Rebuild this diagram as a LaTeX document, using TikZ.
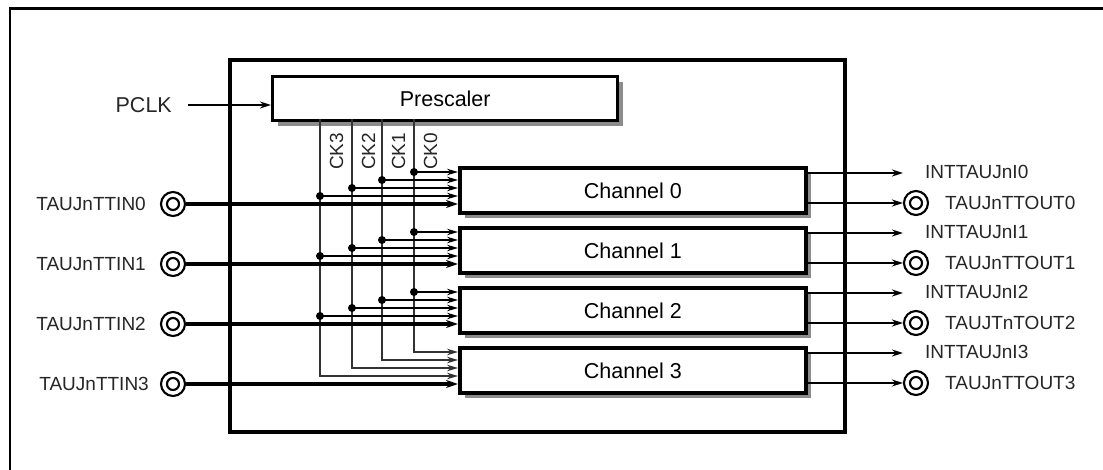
\documentclass[tikz,border=0pt]{standalone}
\usepackage{fontspec}
\setmainfont{Liberation Sans}
\usetikzlibrary{arrows.meta,shadows}
\begin{document}
\begin{tikzpicture}[x=1pt,y=-1pt,
  lab/.style={inner sep=0pt, font=\fontsize{19}{22}\selectfont, text=black!85},
  bigtext/.style={font=\fontsize{21.5}{25}\selectfont},
  blockbox/.style={draw, fill=white, line width=3.8pt, inner sep=0pt, anchor=north west, bigtext,
    drop shadow={shadow xshift=5.5pt, shadow yshift=-5.5pt, opacity=1, fill=black!45}},
  ring/.style={circle, draw, fill=white, line width=2.1pt, minimum size=24pt, inner sep=0pt,
    path picture={\draw[line width=2.1pt] (path picture bounding box.center) circle (6pt);}},
  cklin/.style={line width=1.4pt, draw=black!80},
  thinarrow/.style={line width=1.4pt, -{Stealth[length=11pt,width=6.5pt]}},
  thickarrow/.style={line width=3.3pt, -{Stealth[length=12pt,width=8pt]}},
  outarrow/.style={line width=2.8pt, -{Stealth[length=11pt,width=7pt]}}
]
\useasboundingbox (0,0) rectangle (1103,470);
\fill[white] (0,0) rectangle (1103,470);
% outer frame (only top and left visible)
\begin{scope}
\clip (0,0) rectangle (1103,470);
\draw[line width=2.6pt] (10,8.5) rectangle (1130,500);
\end{scope}
% inner big box
\draw[line width=4.5pt] (230,60) rectangle (845,432);

% prescaler
\node[blockbox, line width=3.4pt, minimum width=345pt, minimum height=44pt] (pre) at (271,75) {Prescaler};
\node[lab, font=\fontsize{21.5}{25}\selectfont, anchor=east] (pclk) at (172,105) {PCLK};
\coordinate (pc) at (188,105);
\draw[outarrow] (pc) -- (pc -| pre.west);

% channels
\foreach \i/\T in {0/166,1/226,2/286,3/346}{
  \node[blockbox, minimum width=346pt, minimum height=45pt] (ch\i) at (458,\T) {Channel \i};
}

% CK lines
\foreach \k/\x/\o in {0/414/6,1/382/14,2/352/22,3/320/30}{
  \coordinate (k\k) at (\x,119);
  \coordinate (e\k) at (\x,346+\o);
  \draw[cklin, thinarrow] (k\k) -- (e\k) -- (e\k -| ch3.west);
  \node[lab, rotate=90, anchor=base west] (ckl\k) at (\x+23,170) {CK\k};
  \foreach \i/\T in {0/166,1/226,2/286}{
    \coordinate (d\i\k) at (\x,\T+\o);
    \draw[thinarrow] (d\i\k) -- (d\i\k -| ch\i.west);
    \fill (d\i\k) circle (4pt);
  }
}

% inputs
\foreach \i/\T/\lx in {0/166/146,1/226/146,2/286/146,3/346/149}{
  \node[ring] (in\i) at (173,\T+38) {};
  \node[lab, anchor=east] (inl\i) at (\lx,\T+38) {TAUJnTTIN\i};
  \draw[thickarrow] (in\i.east) -- (in\i.east -| ch\i.west);
}

% outputs
\foreach \i/\T/\name in {0/166/TAUJnTTOUT0,1/226/TAUJnTTOUT1,2/286/TAUJTnTOUT2,3/346/TAUJnTTOUT3}{
  \coordinate (ia\i) at (903,\T+7);
  \draw[outarrow] (ch\i.east |- ia\i) -- (ia\i);
  \node[lab, anchor=west] (intl\i) at (925,\T+6) {INTTAUJnI\i};
  \node[ring] (out\i) at (916,\T+37) {};
  \draw[outarrow] (ch\i.east |- out\i) -- (out\i.west);
  \node[lab, anchor=west] (outl\i) at (945,\T+37) {\name};
}
\end{tikzpicture}
\end{document}
